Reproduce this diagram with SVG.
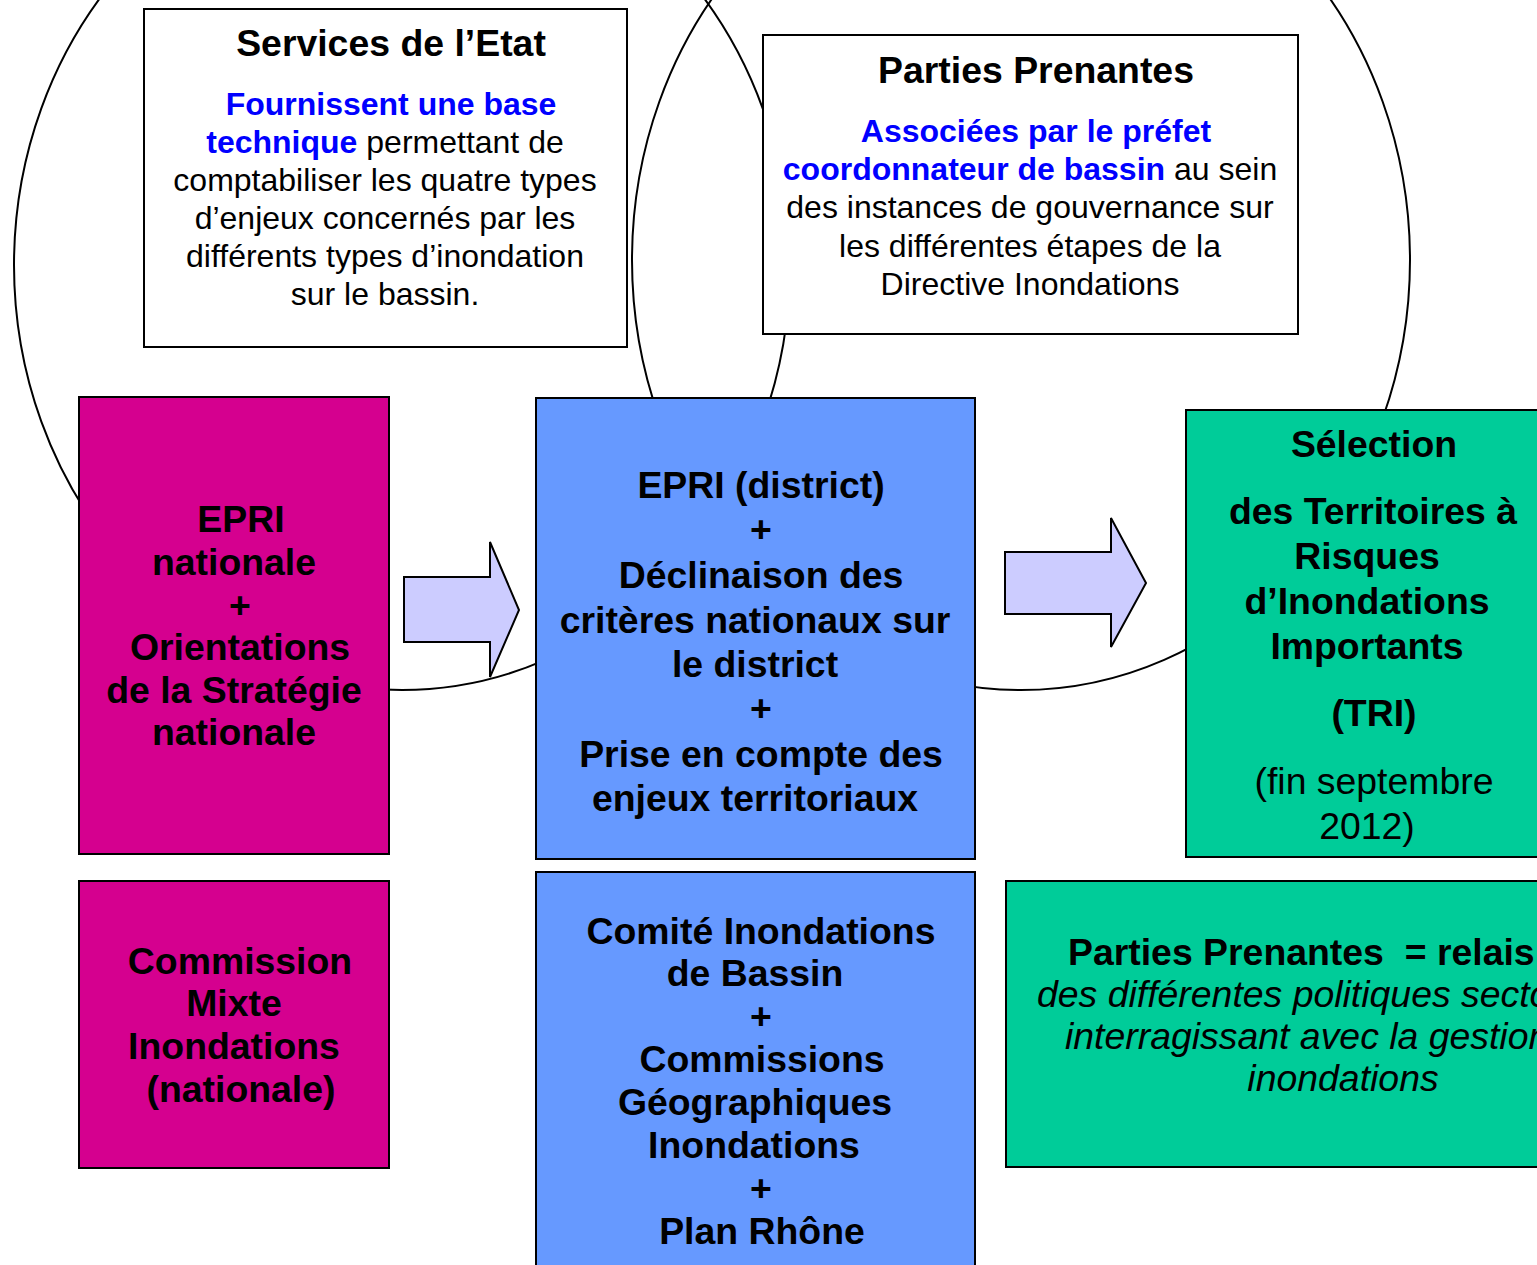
<svg xmlns="http://www.w3.org/2000/svg" width="1537" height="1265" viewBox="0 0 1537 1265">
<style>
text{font-family:"Liberation Sans",Arial,sans-serif;fill:#000}
.t{font-size:37.4px;font-weight:bold;text-anchor:middle}
.b{font-size:32px;text-anchor:middle}
.bl{fill:#0000FF;font-weight:bold}
.big{font-size:37.4px;font-weight:bold;text-anchor:middle}
.reg{font-size:37.4px;text-anchor:middle}
.it{font-size:37.4px;font-style:italic}
.box{stroke:#000;stroke-width:2}
.mag{fill:#D5008F}
.blue{fill:#6699FF}
.green{fill:#00CC99}
.white{fill:#FFFFFF}
.ell{fill:none;stroke:#000;stroke-width:2}
.arrow{fill:#CCCCFF;stroke:#000;stroke-width:2;stroke-linejoin:miter}
</style>
<rect width="1537" height="1265" fill="#FFFFFF"/>
<g id="circles">
<ellipse class="ell" cx="402" cy="265" rx="388" ry="425"/>
<ellipse class="ell" cx="1021" cy="260" rx="389" ry="430"/>
</g>
<g id="services-etat">
<rect class="box white" x="144" y="9" width="483" height="338"/>
<text class="t" x="391" y="56">Services de l’Etat</text>
<text class="b" x="391" y="115"><tspan class="bl">Fournissent une base</tspan></text>
<text class="b" x="385" y="153"><tspan class="bl">technique</tspan> permettant de</text>
<text class="b" x="385" y="191">comptabiliser les quatre types</text>
<text class="b" x="385" y="229">d’enjeux concernés par les</text>
<text class="b" x="385" y="267">différents types d’inondation</text>
<text class="b" x="385" y="305">sur le bassin.</text>
</g>
<g id="parties-prenantes-top">
<rect class="box white" x="763" y="35" width="535" height="299"/>
<text class="t" x="1036" y="83">Parties Prenantes</text>
<text class="b" x="1036" y="142"><tspan class="bl">Associées par le préfet</tspan></text>
<text class="b" x="1030" y="180"><tspan class="bl">coordonnateur de bassin</tspan> au sein</text>
<text class="b" x="1030" y="218">des instances de gouvernance sur</text>
<text class="b" x="1030" y="257">les différentes étapes de la</text>
<text class="b" x="1030" y="295">Directive Inondations</text>
</g>
<g id="epri-nationale">
<rect class="box mag" x="79" y="397" width="310" height="457"/>
<text class="big" x="241" y="532">EPRI</text>
<text class="big" x="234" y="575">nationale</text>
<text class="big" x="240" y="618">+</text>
<text class="big" x="240" y="660">Orientations</text>
<text class="big" x="234" y="703">de la Stratégie</text>
<text class="big" x="234" y="745">nationale</text>
</g>
<g id="epri-district">
<rect class="box blue" x="536" y="398" width="439" height="461"/>
<text class="big" x="761" y="498">EPRI (district)</text>
<text class="big" x="761" y="542">+</text>
<text class="big" x="761" y="588">Déclinaison des</text>
<text class="big" x="755" y="633">critères nationaux sur</text>
<text class="big" x="755" y="677">le district</text>
<text class="big" x="761" y="721">+</text>
<text class="big" x="761" y="767">Prise en compte des</text>
<text class="big" x="755" y="811">enjeux territoriaux</text>
</g>
<g id="selection-tri">
<rect class="box green" x="1186" y="410" width="400" height="447"/>
<text class="big" x="1374" y="457">Sélection</text>
<text class="big" x="1373" y="524">des Territoires à</text>
<text class="big" x="1367" y="569">Risques</text>
<text class="big" x="1367" y="614">d’Inondations</text>
<text class="big" x="1367" y="659">Importants</text>
<text class="big" x="1374" y="726">(TRI)</text>
<text class="reg" x="1374" y="794">(fin septembre</text>
<text class="reg" x="1367" y="839">2012)</text>
</g>
<g id="commission-mixte">
<rect class="box mag" x="79" y="881" width="310" height="287"/>
<text class="big" x="240" y="974">Commission</text>
<text class="big" x="234" y="1016">Mixte</text>
<text class="big" x="234" y="1059">Inondations</text>
<text class="big" x="241" y="1102">(nationale)</text>
</g>
<g id="comite-inondations">
<rect class="box blue" x="536" y="872" width="439" height="420"/>
<text class="big" x="761" y="944">Comité Inondations</text>
<text class="big" x="755" y="986">de Bassin</text>
<text class="big" x="761" y="1029">+</text>
<text class="big" x="762" y="1072">Commissions</text>
<text class="big" x="755" y="1115">Géographiques</text>
<text class="big" x="754" y="1158">Inondations</text>
<text class="big" x="761" y="1201">+</text>
<text class="big" x="762" y="1244">Plan Rhône</text>
</g>
<g id="parties-prenantes-relais">
<rect class="box green" x="1006" y="881" width="600" height="286"/>
<text x="1068" y="965" style="font-size:37.4px;font-weight:bold;white-space:pre" xml:space="preserve">Parties Prenantes  = relais</text>
<text class="it" x="1037" y="1007">des différentes politiques secto</text>
<text class="it" x="1065" y="1049">interragissant avec la gestion</text>
<text class="it" x="1343" y="1091" text-anchor="middle">inondations</text>
</g>
<g id="connectors">
<polygon class="arrow" points="404,577 490,577 490,542 519,610 490,677 490,642 404,642"/>
<polygon class="arrow" points="1005,552 1111,552 1111,518 1146,583 1111,647 1111,614 1005,614"/>
</g>
</svg>
